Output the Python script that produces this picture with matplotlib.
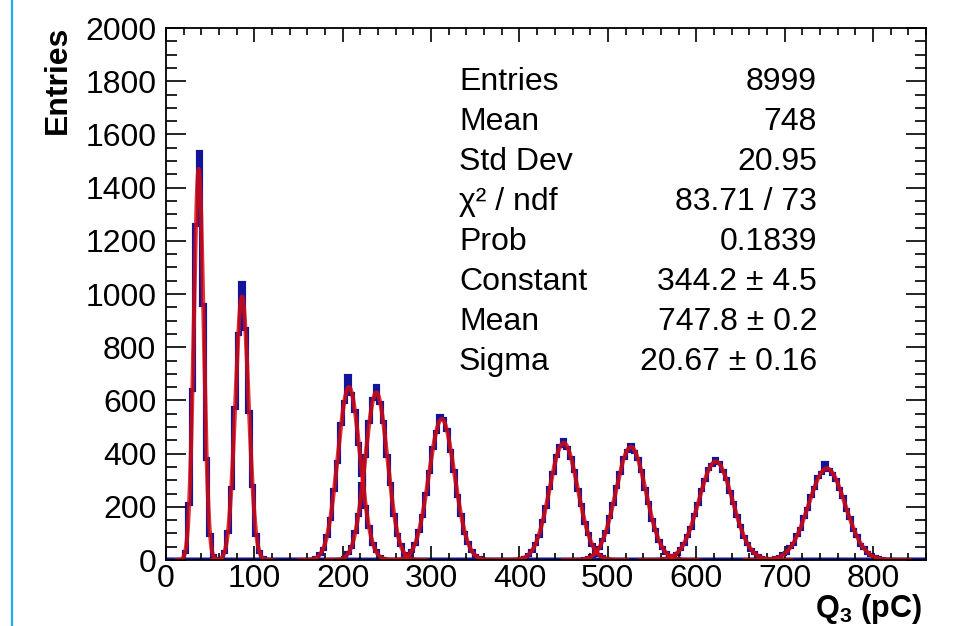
import numpy as np
import matplotlib

matplotlib.use("Agg")
import matplotlib.pyplot as plt
from matplotlib.lines import Line2D
from matplotlib.ticker import MultipleLocator

plt.rcParams["font.family"] = ["Liberation Sans", "DejaVu Sans"]
plt.rcParams["mathtext.fontset"] = "custom"
plt.rcParams["mathtext.rm"] = "Liberation Sans"
plt.rcParams["mathtext.bf"] = "Liberation Sans:bold"

# histogram binning (pC)
BIN_WIDTH = 4
X_MAX = 860

# left edge of the first filled bin of each peak histogram
peak_start = [20, 60, 168, 200, 268, 400, 472, 564, 684]

# bin contents
counts_q1 = [30, 210, 640, 1260, 1535, 960, 380, 95, 15]
counts_q2 = [5, 30, 105, 270, 570, 850, 1040, 870, 555, 280, 95, 30, 8]
counts_q3 = [7, 22, 40, 92, 155, 265, 370, 510, 595, 690, 625, 560, 435, 320,
             200, 125, 60, 32, 12, 4]
counts_q4 = [8, 25, 50, 105, 170, 285, 390, 520, 605, 655, 590, 520, 390, 285,
             170, 95, 55, 22, 9]
counts_q5 = [7, 18, 33, 60, 108, 165, 250, 330, 420, 480, 540, 530, 490, 410,
             335, 240, 170, 100, 65, 32, 16, 7]
counts_q6 = [5, 9, 20, 33, 62, 92, 146, 198, 270, 328, 392, 430, 450, 420, 385,
             335, 262, 205, 140, 98, 58, 36, 18, 10, 4]
counts_q7 = [4, 9, 14, 28, 44, 74, 106, 160, 210, 275, 328, 384, 410, 433, 405,
             378, 335, 268, 216, 152, 112, 70, 46, 26, 16, 7, 4]
counts_q8 = [5, 8, 16, 24, 42, 60, 92, 122, 170, 210, 262, 300, 342, 358, 380,
             365, 335, 305, 255, 216, 164, 128, 86, 62, 38, 26, 14, 9, 4]
counts_q9 = [3, 8, 11, 21, 28, 47, 62, 94, 118, 162, 192, 242, 270, 312, 328,
             365, 338, 322, 300, 268, 238, 188, 158, 114, 90, 58, 45, 26, 19,
             10, 7, 3]
peak_counts = [counts_q1, counts_q2, counts_q3, counts_q4, counts_q5,
               counts_q6, counts_q7, counts_q8, counts_q9]

# gaussian fit parameters (constant, mean, sigma) per peak
fit_const = [1470, 990, 650, 630, 530, 440, 425, 370, 344.2]
fit_mean = [37, 86, 207, 238, 312, 450, 526, 622, 747.8]
fit_sigma = [5.5, 7.5, 12.5, 12.5, 14.5, 16, 17, 19, 20.67]

# stats box of the last histogram
stats_labels = ["Entries", "Mean", "Std Dev", "\u03c7\u00b2 / ndf", "Prob",
                "Constant", "Mean", "Sigma"]
stats_values = ["8999", "748", "20.95", "83.71 / 73", "0.1839",
                "344.2 \u00b1 4.5", "747.8 \u00b1 0.2", "20.67 \u00b1 0.16"]

BLUE = "#14149a"
RED = "#dc0a0a"
W, H = 969, 626
FS = 23

fig = plt.figure(figsize=(W / 100, H / 100), dpi=100)
ax = fig.add_axes([166 / W, 1 - 560 / H, 760 / W, 532 / H])

edges = np.arange(0, X_MAX + BIN_WIDTH, BIN_WIDTH)
for start, counts in zip(peak_start, peak_counts):
    h = np.zeros(len(edges) - 1)
    i0 = start // BIN_WIDTH
    h[i0:i0 + len(counts)] = counts
    ax.stairs(h, edges, color=BLUE, lw=3.0)

for c, m, s in zip(fit_const, fit_mean, fit_sigma):
    x = np.linspace(m - 4.5 * s, m + 4.5 * s, 200)
    ax.plot(x, c * np.exp(-0.5 * ((x - m) / s) ** 2), color=RED, lw=3.0,
            alpha=0.82)

ax.set_xlim(0, X_MAX)
ax.set_ylim(0, 2000)
ax.xaxis.set_major_locator(MultipleLocator(100))
ax.xaxis.set_minor_locator(MultipleLocator(20))
ax.yaxis.set_major_locator(MultipleLocator(200))
ax.yaxis.set_minor_locator(MultipleLocator(50))
ax.tick_params(which="both", direction="in", top=True, right=True,
               labelsize=FS, width=1.2, colors="black")
ax.tick_params(axis="y", which="major", length=14.5, pad=7)
ax.tick_params(axis="y", which="minor", length=8)
ax.tick_params(axis="x", which="major", length=10, pad=3)
ax.tick_params(axis="x", which="minor", length=5)
for sp in ax.spines.values():
    sp.set_linewidth(1.3)

fig.text(58 / W, 1 - 26 / H, "Entries", rotation=90, ha="center", va="top",
         fontsize=FS, fontweight="bold")
fig.text(922 / W, 1 - 592 / H, r"Q$_{\mathbf{3}}$ (pC)", ha="right", va="top",
         fontsize=22, fontweight="bold")

for i, (lab, val) in enumerate(zip(stats_labels, stats_values)):
    y = 1 - (82 + 40 * i) / H
    fig.text(459 / W, y, lab, ha="left", va="center", fontsize=FS)
    fig.text(817 / W, y, val, ha="right", va="center", fontsize=FS)

fig.add_artist(Line2D([12 / W, 12 / W], [0, 1], color="#22aaee", lw=1.6,
                      transform=fig.transFigure))

fig.savefig("out.png", dpi=100)
